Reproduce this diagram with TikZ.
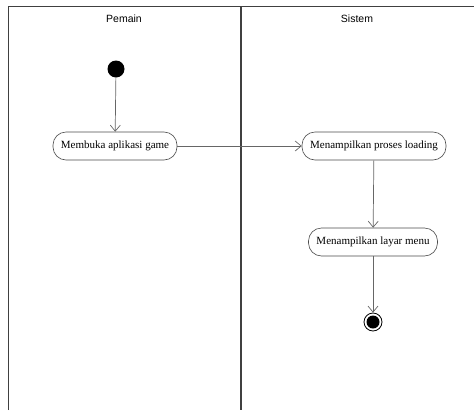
\documentclass[tikz,border=0pt]{standalone}
\usepackage{fontspec}
\setmainfont{Liberation Serif}
\newfontfamily\headfont{Liberation Sans}
\usetikzlibrary{arrows.meta}
\begin{document}
\begin{tikzpicture}[x=1pt,y=-1pt,
  lane/.style={draw=black!75, line width=0.9pt},
  act/.style={draw=black!70, line width=0.6pt, rounded corners=13pt, minimum height=28pt, inner xsep=6pt, font=\fontsize{11}{12}\selectfont, fill=white},
  flow/.style={draw=black!60, line width=0.7pt, -{Straight Barb[length=6pt,width=10pt,line width=0.7pt]}},
  head/.style={font=\headfont\fontsize{10.5}{12}\selectfont}]
\useasboundingbox (0,0) rectangle (474,410);
% swimlanes
\coordinate (tl) at (8,6);
\coordinate (tr) at (474,6);
\coordinate (bl) at (8,410);
\coordinate (mt) at (241,6);
\coordinate (mb) at (241,410);
\draw[lane] (bl) -- (tl) -- (tr);
\draw[lane, line width=1.2pt] (mt) -- (mb);
\node[head] (h1) at (124,19) {Pemain};
\node[head] (h2) at (357,19) {Sistem};
% nodes
\node[fill=black, circle, minimum size=17pt, inner sep=0pt] (start) at (116,69) {};
\node[act, minimum width=124pt] (a1) at (115,146) {Membuka aplikasi game};
\node[act, minimum width=144pt] (a2) at (374,146) {Menampilkan proses loading};
\node[act, minimum width=129pt] (a3) at (373,242) {Menampilkan layar menu};
\node[draw=black, line width=0.8pt, circle, minimum size=18pt, inner sep=0pt] (end) at (373,322) {};
\node[fill=black, circle, minimum size=13pt, inner sep=0pt] (endin) at (end) {};
% flows
\draw[flow] (start) -- (a1);
\draw[flow] (a1) -- (a2);
\draw[flow] (a2) -- (a3);
\draw[flow] (a3) -- (end);
\end{tikzpicture}
\end{document}
